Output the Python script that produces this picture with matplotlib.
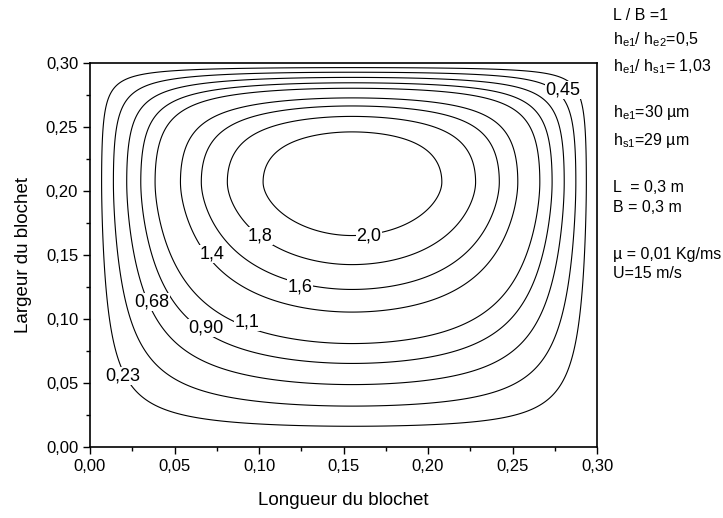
import numpy as np
import matplotlib
matplotlib.use("Agg")
import matplotlib.pyplot as plt
from matplotlib.ticker import MultipleLocator, FuncFormatter

# -------- DATA --------

levels = [0.23, 0.45, 0.68, 0.90, 1.1, 1.4, 1.6, 1.8, 2.0]
level_text = ["0,23", "0,45", "0,68", "0,90", "1,1", "1,4", "1,6", "1,8", "2,0"]

p_max = 2.2
x_peak = 0.155
y_peak = 0.207

# where each level crosses the row through the peak (outer -> inner)
x_left = [0.0065, 0.0136, 0.0213, 0.0302, 0.0402, 0.0521, 0.0657, 0.0817, 0.1024]
x_right = [0.2939, 0.2880, 0.2811, 0.2732, 0.2643, 0.2544, 0.2426, 0.2278, 0.2081]

# where each level crosses the column through the peak (outer -> inner)
y_bottom = [0.0164, 0.0313, 0.0469, 0.0664, 0.0836, 0.1031, 0.1234, 0.1422, 0.1656]
y_top = [0.2961, 0.2930, 0.2891, 0.2846, 0.2794, 0.2734, 0.2662, 0.2584, 0.2461]

# label anchor points (level index, x, y)
label_pos = [(0, 0.0195, 0.0555), (1, 0.2799, 0.2789), (2, 0.0367, 0.1133),
             (3, 0.0686, 0.0930), (4, 0.0929, 0.0977), (5, 0.0722, 0.1508),
             (6, 0.1243, 0.1250), (7, 0.1006, 0.1648), (8, 0.1651, 0.1648)]

info_lines = ["L / B =1",
              r"h$_{\mathregular{e1}}$/ h$_{\mathregular{e2}}$=0,5",
              r"h$_{\mathregular{e1}}$/ h$_{\mathregular{s1}}$= 1,03",
              r"h$_{\mathregular{e1}}$=30 µm",
              r"h$_{\mathregular{s1}}$=29 µm",
              "L  = 0,3 m",
              "B = 0,3 m",
              "µ = 0,01 Kg/ms",
              "U=15 m/s"]
info_y = [15, 40, 67, 113, 140, 187, 207, 254, 273]   # pixel rows

L = 0.3
B = 0.3


# -------- FIELD FROM THE CROSSINGS --------
# smooth fit of distance-from-peak against s = sqrt(1 - p/p_max) on each side

rel = np.array(levels) / p_max


def side_profile(cross, peak, edge):
    D = abs(edge - peak)
    s_pts = np.concatenate([[0.0], np.sqrt(1 - rel), [1.0]])
    d_pts = np.concatenate([[0.0], np.abs(np.array(cross) - peak), [D]])
    w = np.ones_like(s_pts)
    w[0] = w[-1] = 50
    coef = np.polyfit(s_pts, d_pts, 4, w=w)
    s = np.linspace(0, 1, 3001)
    d = np.maximum.accumulate(np.clip(np.polyval(coef, s), 0, D))
    d = d * D / d[-1]
    return d, 1 - s**2


def profile(grid, lo_cross, hi_cross, peak, edge_hi):
    d_lo, v_lo = side_profile(lo_cross, peak, 0.0)
    d_hi, v_hi = side_profile(hi_cross, peak, edge_hi)
    pos = np.concatenate([(peak - d_lo)[::-1], peak + d_hi[1:]])
    val = np.concatenate([v_lo[::-1], v_hi[1:]])
    return np.interp(grid, pos, val)


xs = np.linspace(0, L, 401)
ys = np.linspace(0, B, 401)
f = profile(xs, x_left, x_right, x_peak, L)
g = profile(ys, y_bottom, y_top, y_peak, B)
P = p_max * np.outer(g, f)

# -------- PLOT --------

plt.rcParams['font.family'] = ['Liberation Sans', 'DejaVu Sans']
plt.rcParams['mathtext.fontset'] = 'custom'
plt.rcParams['mathtext.rm'] = 'Liberation Sans'

fig = plt.figure(figsize=(7.23, 5.18), dpi=100)
ax = fig.add_axes([90/723, 71/518, 507/723, 384/518])

ax.contour(xs, ys, P, levels=levels, colors='black', linewidths=0.8)

for idx, lx, ly in label_pos:
    ax.text(lx, ly, level_text[idx], fontsize=13, ha='center', va='center',
            bbox=dict(facecolor='white', edgecolor='none', pad=0.2))

ax.set_xlim(0, L)
ax.set_ylim(0, B)
ax.xaxis.set_major_locator(MultipleLocator(0.05))
ax.xaxis.set_minor_locator(MultipleLocator(0.025))
ax.yaxis.set_major_locator(MultipleLocator(0.05))
ax.yaxis.set_minor_locator(MultipleLocator(0.025))
comma = FuncFormatter(lambda v, pos: f"{v:.2f}".replace('.', ','))
ax.xaxis.set_major_formatter(comma)
ax.yaxis.set_major_formatter(comma)

ax.tick_params(which='major', direction='out', length=5, width=1, labelsize=12)
ax.tick_params(which='minor', direction='out', length=3, width=1)
for s in ax.spines.values():
    s.set_linewidth(1.2)

ax.set_xlabel("Longueur du blochet", fontsize=13.5, labelpad=13)
ax.set_ylabel("Largeur du blochet", fontsize=13.5, labelpad=10)

for txt, py in zip(info_lines, info_y):
    fig.text(613/723, 1 - py/518, txt, fontsize=11.5, ha='left', va='center')

fig.savefig("out.png", dpi=100)
